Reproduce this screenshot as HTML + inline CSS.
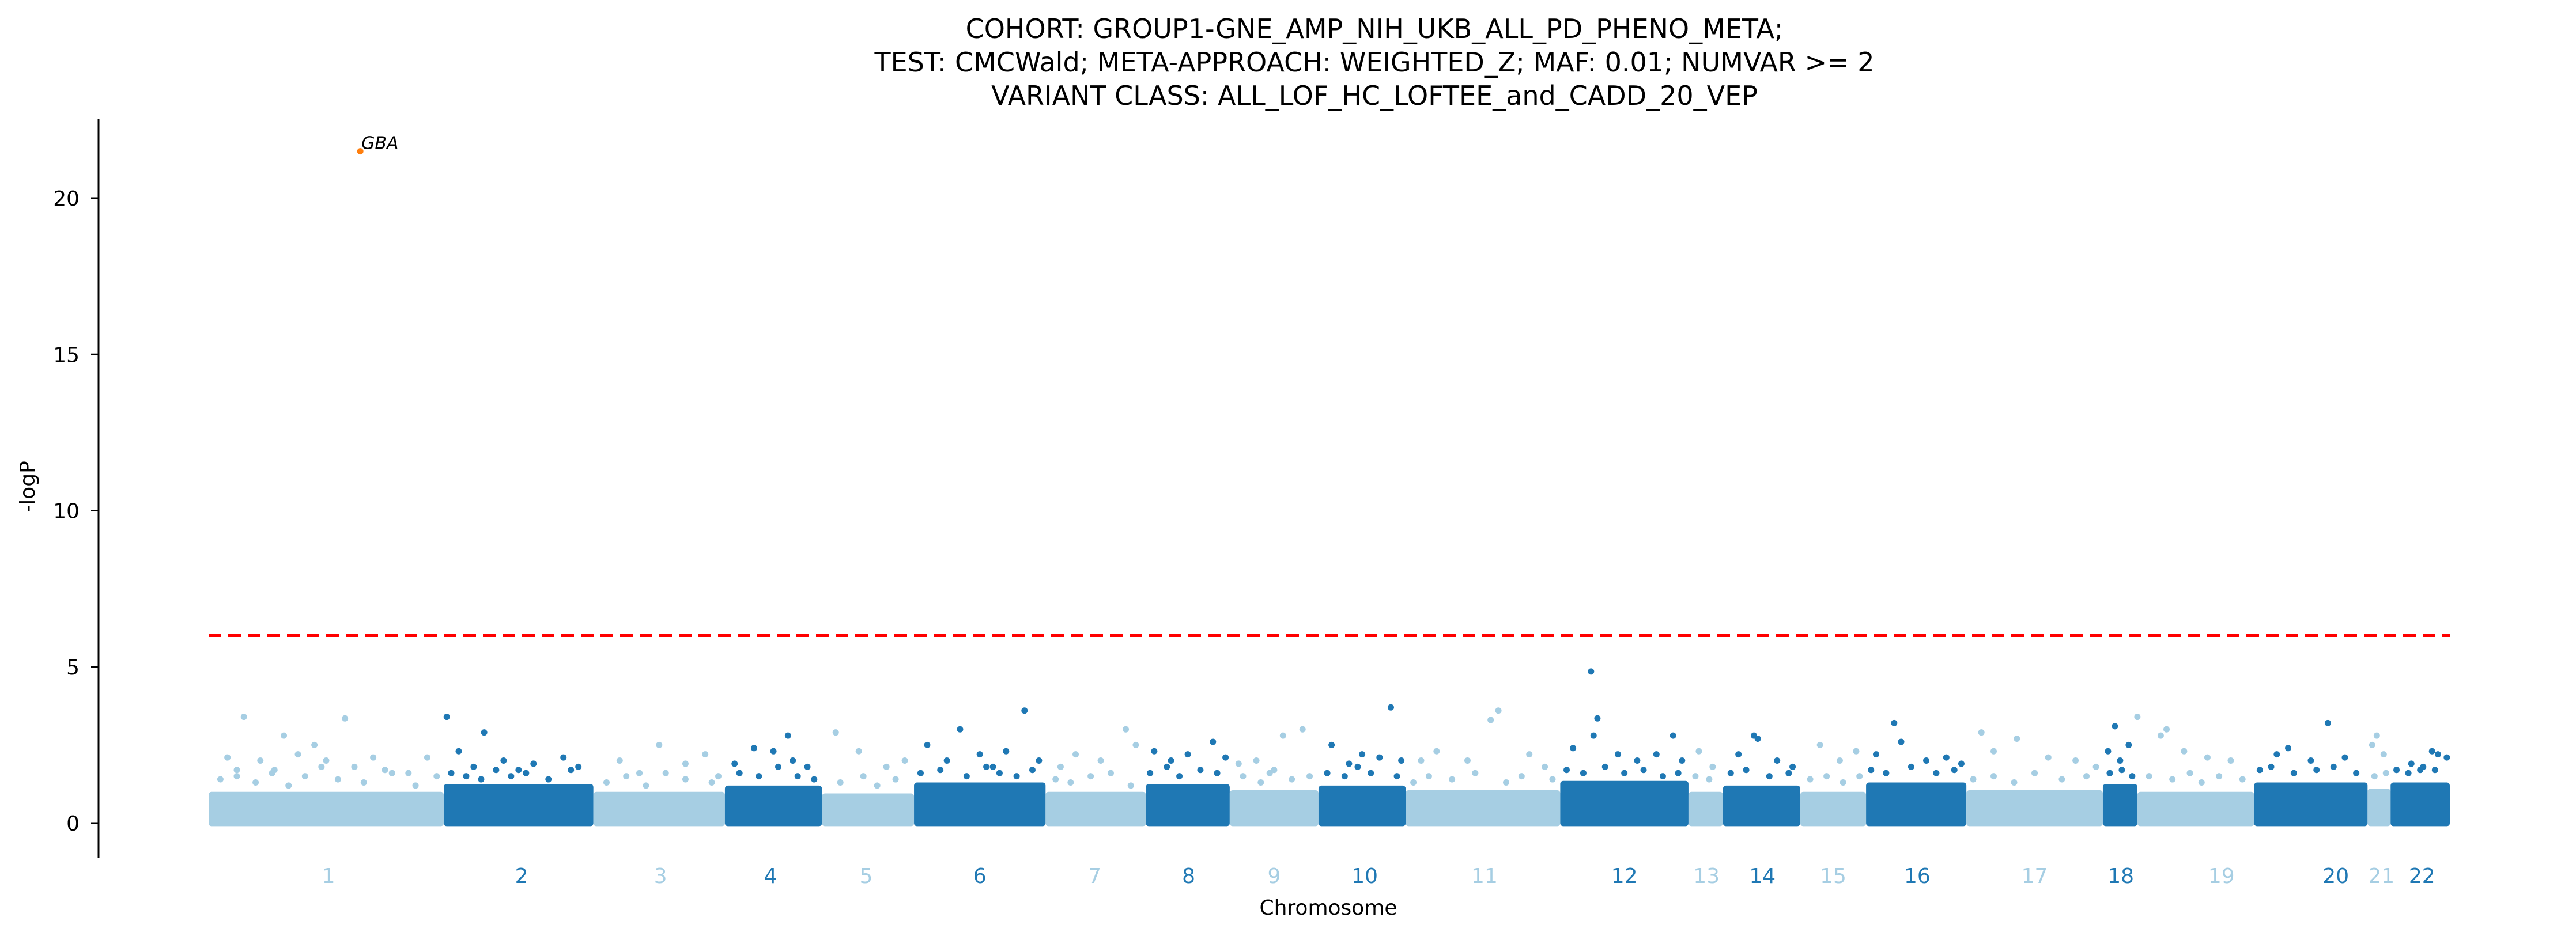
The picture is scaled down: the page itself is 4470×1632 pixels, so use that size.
<!DOCTYPE html>
<html><head><meta charset="utf-8"><style>
html,body{margin:0;padding:0;background:#fff;}
svg{display:block;font-family:"DejaVu Sans","Liberation Sans",sans-serif;}
</style></head><body>
<svg id="chart" width="4470" height="1632" viewBox="0 0 4470 1632" xmlns="http://www.w3.org/2000/svg">
<g font-size="46" text-anchor="middle" fill="#000">
<text x="2385" y="66">COHORT: GROUP1-GNE_AMP_NIH_UKB_ALL_PD_PHENO_META;</text>
<text x="2385" y="124">TEST: CMCWald; META-APPROACH: WEIGHTED_Z; MAF: 0.01; NUMVAR &gt;= 2</text>
<text x="2385" y="182">VARIANT CLASS: ALL_LOF_HC_LOFTEE_and_CADD_20_VEP</text>
</g>
<g id="plot"></g>
</svg>
<script>
const chromLabels = ["1","2","3","4","5","6","7","8","9","10","11","12","13","14","15","16","17","18","19","20","21","22"];
const chromWidths = [143,91,80,59,56,80,61,51,54,53,94,78,21,47,40,61,83,21,71,69,14,36];
const labelFrac = [.51,.52,.51,.47,.48,.5,.49,.51,.5,.53,.51,.5,.52,.51,.5,.51,.5,.52,.72,.72,.6,.53];
const bandTop = [1.0,1.25,1.0,1.2,0.95,1.3,1.0,1.25,1.05,1.2,1.05,1.35,1.0,1.2,1.0,1.3,1.05,1.25,1.0,1.3,1.1,1.3];
const scatChrom = [1,1,1,1,1,1,1,1,1,1,1,1,1,1,1, 2,2,2,2,2,2,2,2,2, 3,3,3,3,3,3, 4,4,4,4,4,4, 5,5,5,5, 6,6,6,6,6,6,6,6, 7,7,7,7,7, 8,8,8,8,8, 9,9,9,9,9, 10,10,10,10,10,10, 11,11,11,11,11,11,11, 12,12,12,12,12,12,12,12,12, 13,13, 14,14,14,14,14, 15,15,15, 16,16,16,16,16,16, 17,17,17,17,17,17, 18,18,18,18, 19,19,19,19,19,19, 20,20,20,20,20, 21,21,21, 22,22,22,22,22];
const scatFrac = [.15,.58,.32,.45,.08,.22,.38,.5,.7,.62,.28,.85,.93,.12,.75, .02,.27,.1,.4,.6,.8,.9,.5,.2, .2,.5,.7,.85,.35,.95, .65,.3,.5,.1,.85,.7, .15,.4,.7,.9, .35,.84,.1,.5,.7,.25,.95,.6, .8,.3,.55,.15,.9, .1,.8,.5,.3,.95, .82,.6,.3,.1,.5, .83,.15,.5,.7,.35,.95, .6,.55,.2,.4,.8,.9,.1, .24,.29,.26,.1,.45,.6,.88,.75,.95, .3,.7, .4,.45,.2,.7,.9, .3,.6,.85, .28,.35,.1,.6,.8,.95, .11,.37,.2,.6,.8,.95, .35,.75,.15,.5, .0,.25,.2,.4,.6,.8, .65,.3,.2,.5,.8, .4,.2,.7, .35,.7,.8,.95,.5];
const scatVal = [3.4,3.35,2.8,2.5,2.1,2.0,2.2,2.0,2.1,1.8,1.7,1.6,2.1,1.5,1.7, 3.4,2.9,2.3,2.0,1.9,2.1,1.8,1.7,1.8, 2.0,2.5,1.9,2.2,1.6,1.5, 2.8,2.4,2.3,1.9,1.8,2.0, 2.9,2.3,1.8,2.0, 3.0,3.6,2.5,2.2,2.3,2.0,2.0,1.8, 3.0,2.2,2.0,1.8,2.5, 2.3,2.6,2.2,2.0,2.1, 3.0,2.8,2.0,1.9,1.7, 3.7,2.5,2.2,2.1,1.9,2.0, 3.6,3.3,2.3,2.0,2.2,1.8,2.0, 4.85,3.35,2.8,2.4,2.2,2.0,2.8,2.2,2.0, 2.3,1.8, 2.8,2.7,2.2,2.0,1.8, 2.5,2.0,2.3, 3.2,2.6,2.2,2.0,2.1,1.9, 2.9,2.7,2.3,2.1,2.0,1.8, 3.1,2.5,2.3,2.0, 3.4,3.0,2.8,2.3,2.1,2.0, 3.2,2.4,2.2,2.0,2.1, 2.8,2.5,2.2, 1.9,2.3,2.2,2.1,1.7];
// denser moderate-signal points just above the main band
const midChrom = [1,1,1,1,1,1,1,1,1,1,1,1, 2,2,2,2,2,2,2,2, 3,3,3,3,3,3, 4,4,4,4,4, 5,5,5,5, 6,6,6,6,6,6,6, 7,7,7,7,7, 8,8,8,8,8, 9,9,9,9,9, 10,10,10,10,10, 11,11,11,11,11,11,11, 12,12,12,12,12,12,12, 13,13, 14,14,14,14, 15,15,15,15, 16,16,16,16,16, 17,17,17,17,17,17, 18,18,18, 19,19,19,19,19,19, 20,20,20,20,20,20, 21,21, 22,22,22,22];
const midFrac = [.05,.12,.2,.27,.34,.41,.48,.55,.66,.78,.88,.97, .05,.15,.25,.35,.45,.55,.7,.85, .1,.25,.4,.55,.7,.9, .15,.35,.55,.75,.92, .2,.45,.6,.8, .05,.2,.4,.55,.65,.78,.9, .1,.25,.45,.65,.85, .05,.25,.4,.65,.85, .15,.35,.45,.7,.9, .1,.3,.45,.6,.9, .05,.15,.3,.45,.65,.75,.95, .05,.18,.35,.5,.65,.8,.92, .2,.6, .1,.3,.6,.85, .15,.4,.65,.9, .05,.2,.45,.7,.88, .05,.2,.35,.5,.7,.88, .2,.55,.85, .1,.3,.45,.55,.7,.9, .05,.15,.35,.55,.7,.9, .3,.8, .1,.3,.55,.75];
const midVal = [1.4,1.7,1.3,1.6,1.2,1.5,1.8,1.4,1.3,1.6,1.2,1.5, 1.6,1.5,1.4,1.7,1.5,1.6,1.4,1.7, 1.3,1.5,1.2,1.6,1.4,1.3, 1.6,1.5,1.8,1.5,1.4, 1.3,1.5,1.2,1.4, 1.6,1.7,1.5,1.8,1.6,1.5,1.7, 1.4,1.3,1.5,1.6,1.2, 1.6,1.8,1.5,1.7,1.6, 1.5,1.3,1.6,1.4,1.5, 1.6,1.5,1.8,1.6,1.5, 1.3,1.5,1.4,1.6,1.3,1.5,1.4, 1.7,1.6,1.8,1.6,1.7,1.5,1.6, 1.5,1.4, 1.6,1.7,1.5,1.6, 1.4,1.5,1.3,1.5, 1.7,1.6,1.8,1.6,1.7, 1.4,1.5,1.3,1.6,1.4,1.5, 1.6,1.7,1.5, 1.5,1.4,1.6,1.3,1.5,1.4, 1.7,1.8,1.6,1.7,1.8,1.6, 1.5,1.6, 1.7,1.6,1.8,1.7];
const hitChrom = 1, hitFrac = 0.645, hitVal = 21.5, hitLabel = "GBA";
const yTicks = [0,5,10,15,20];
const threshold = 6;

const NS = "http://www.w3.org/2000/svg";
const g = document.getElementById("plot");
const X0 = 362, X1 = 4251, Y0 = 1429, PPU = 54.25;
const total = chromWidths.reduce((a,b)=>a+b,0);
const starts = []; let acc = 0; chromWidths.forEach(w=>{starts.push(acc); acc+=w;});
function xs(c, f){ const i=c-1; return X0 + (starts[i] + f*chromWidths[i]) / total * (X1-X0); }
function ys(v){ return Y0 - v*PPU; }
const LIGHT="#a6cee3", DARK="#1f78b4";
function mk(tag, attrs){ const e=document.createElementNS(NS,tag); for(const k in attrs) e.setAttribute(k, attrs[k]); g.appendChild(e); return e; }

let ax = mk("line",{x1:171,y1:206,x2:171,y2:1490,stroke:"#000","stroke-width":3});


yTicks.forEach(t=>{
  const tk = mk("line",{x1:158,y1:ys(t),x2:171,y2:ys(t),stroke:"#000","stroke-width":3});
  
  
  const tl = mk("text",{x:138,y:ys(t)+13,"text-anchor":"end","font-size":36,fill:"#000"});
  tl.textContent = t;
  
  
});
const yl = mk("text",{x:0,y:0,"font-size":36,"text-anchor":"middle",transform:"translate(60,845) rotate(-90)"});
yl.textContent="-logP";


const xl = mk("text",{x:2305,y:1588,"font-size":36,"text-anchor":"middle"});
xl.textContent="Chromosome";



chromLabels.forEach((lab,i)=>{
  const c=i+1, col = (c%2===1)?LIGHT:DARK;
  const xa=xs(c,0), xb=xs(c,1);
  const r = mk("rect",{x:xa,y:ys(bandTop[i]),width:xb-xa,height:ys(-0.1)-ys(bandTop[i]),fill:col,rx:5});
  
  
  const t = mk("text",{x:xs(c,labelFrac[i]),y:1533,"text-anchor":"middle","font-size":36,fill:col});
  t.textContent=lab;
  
  
});
midChrom.forEach((c,k)=>{
  const col=(c%2===1)?LIGHT:DARK;
  const p = mk("circle",{cx:xs(c,midFrac[k]),cy:ys(midVal[k]),r:5.5,fill:col});
  
  
});
scatChrom.forEach((c,k)=>{
  const col=(c%2===1)?LIGHT:DARK;
  const p = mk("circle",{cx:xs(c,scatFrac[k]),cy:ys(scatVal[k]),r:5.5,fill:col});
  
  
});
const th = mk("line",{x1:X0,y1:ys(threshold),x2:X1,y2:ys(threshold),stroke:"#ff0000","stroke-width":5,"stroke-dasharray":"22 12"});


const hp = mk("circle",{cx:xs(hitChrom,hitFrac),cy:ys(hitVal),r:5.5,fill:"#ff7f0e"});


const ht = mk("text",{x:xs(hitChrom,hitFrac)+2,y:ys(hitVal)-4,"font-size":30,"font-style":"italic",fill:"#000"});
ht.textContent=hitLabel;


</script>
</body></html>
